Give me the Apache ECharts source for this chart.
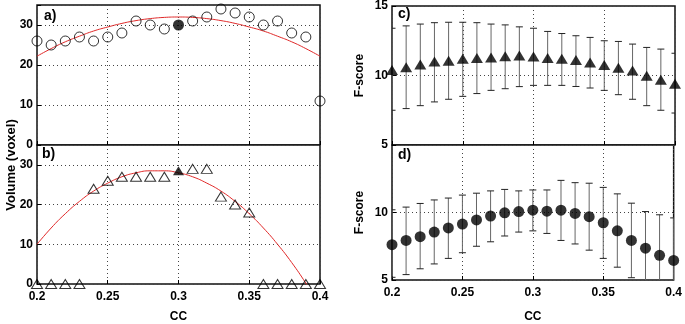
<!DOCTYPE html>
<html>
<head>
<meta charset="utf-8">
<script src="https://cdn.jsdelivr.net/npm/echarts@6/dist/echarts.min.js"></script>
<style>
  html, body { margin: 0; padding: 0; background: #fff; }
  #chart { width: 685px; height: 324px; }
</style>
</head>
<body>
<div id="chart"></div>
<script>
// CC thresholds, shared by all four panels
var cc = [0.20, 0.21, 0.22, 0.23, 0.24, 0.25, 0.26, 0.27, 0.28, 0.29, 0.30,
          0.31, 0.32, 0.33, 0.34, 0.35, 0.36, 0.37, 0.38, 0.39, 0.40];
var best = 10; // cc = 0.3, drawn filled

// a) volume, circles + red fit
var volA = [26, 25, 26, 27, 26, 27, 28, 31, 30, 29, 30, 31, 32, 34, 33, 32, 30, 31, 28, 27, 11];
var fitA = [22.2, 24.1, 25.8, 27.2, 28.5, 29.5, 30.4, 31.1, 31.6, 31.9, 32.0,
            31.9, 31.6, 31.1, 30.4, 29.5, 28.5, 27.2, 25.8, 24.1, 22.2];
// b) volume, triangles + red fit
var volB = [0, 0, 0, 0, 24, 26, 27, 27, 27, 27, 28.5, 29, 29, 22, 20, 18, 0, 0, 0, 0, 0];
var fitB = [10.0, 14.1, 17.7, 20.8, 23.4, 25.4, 27.0, 28.0, 28.5, 28.5, 28.0,
            27.0, 25.4, 23.4, 20.8, 17.7, 14.1, 10.0, 5.4, 0.2, -5.4];
// c) F-score mean, low, high
var fC   = [10.4, 10.6, 10.8, 11.0, 11.07, 11.2, 11.26, 11.3, 11.38, 11.43, 11.36,
            11.26, 11.2, 11.12, 10.93, 10.76, 10.55, 10.36, 9.98, 9.69, 9.4];
var fCLo = [7.5, 7.62, 7.83, 8.1, 8.29, 8.5, 8.7, 8.93, 9.05, 9.2, 9.29,
            9.29, 9.29, 9.21, 9.1, 8.93, 8.62, 8.29, 7.83, 7.5, 7.3];
var fCHi = [13.4, 13.57, 13.7, 13.8, 13.83, 13.83, 13.8, 13.7, 13.64, 13.5, 13.4,
            13.17, 13.02, 12.86, 12.74, 12.5, 12.45, 12.26, 12.02, 11.9, 11.6];
// d) F-score mean, low, high
var fD   = [7.62, 7.93, 8.21, 8.55, 8.86, 9.14, 9.45, 9.74, 9.98, 10.07, 10.17,
            10.1, 10.17, 9.93, 9.69, 9.24, 8.64, 7.93, 7.36, 6.83, 6.45];
var fDLo = [5.2, 5.4, 5.83, 6.19, 6.6, 7.02, 7.5, 7.83, 8.26, 8.55, 8.64,
            8.45, 7.93, 7.67, 7.21, 6.6, 5.95, 5.17, 4.7, 4.0, 3.8];
var fDHi = [10.2, 10.4, 10.67, 10.93, 11.07, 11.29, 11.43, 11.6, 11.71, 11.6, 11.67,
            11.67, 12.38, 12.21, 12.17, 11.86, 11.38, 10.69, 10.07, 9.83, 9.6];

var font = "'Liberation Sans', Arial, sans-serif";

function pairs(ys) {
  return cc.map(function (c, i) { return [c, ys[i]]; });
}

function xAx(gi, labels, nameGap) {
  return {
    type: 'value', gridIndex: gi, min: 0.2, max: 0.4, interval: 0.05,
    name: labels ? 'CC' : '', nameLocation: 'middle', nameGap: nameGap || 25,
    nameTextStyle: { fontFamily: font, fontWeight: 'bold', fontSize: 12, color: '#000' },
    axisLine: { show: false },
    axisTick: { show: true, inside: true, length: 4, lineStyle: { color: '#000' } },
    axisLabel: { show: labels, fontFamily: font, fontWeight: 'bold', fontSize: 12, color: '#000', margin: 7 },
    splitLine: { show: true, lineStyle: { color: '#444', type: [1, 3], width: 1 } }
  };
}

function yAx(gi, min, max, interval, hide, name) {
  return {
    type: 'value', gridIndex: gi, min: min, max: max, interval: interval,
    name: name || '', nameLocation: 'middle', nameGap: 26, nameRotate: 90,
    nameTextStyle: { fontFamily: font, fontWeight: 'bold', fontSize: 12, color: '#000' },
    axisLine: { show: false },
    axisTick: { show: true, inside: true, length: 4, lineStyle: { color: '#000' } },
    axisLabel: {
      fontFamily: font, fontWeight: 'bold', fontSize: 12, color: '#000', margin: 4,
      formatter: function (v) { return hide.indexOf(v) >= 0 ? '' : String(v); }
    },
    splitLine: {
      show: true,
      lineStyle: { color: '#444', type: [1, 3], width: 1 }
    }
  };
}

function errBars(gi, lo, hi) {
  return {
    type: 'custom', xAxisIndex: gi, yAxisIndex: gi, clip: true, z: 2,
    data: cc.map(function (c, i) { return [c, lo[i], hi[i]]; }),
    renderItem: function (params, api) {
      var top = api.coord([api.value(0), api.value(2)]);
      var bot = api.coord([api.value(0), api.value(1)]);
      var w = 3.5;
      var cap = { stroke: '#222', lineWidth: 1 };
      return {
        type: 'group',
        children: [
          { type: 'line', shape: { x1: top[0], y1: top[1], x2: bot[0], y2: bot[1] },
            style: { stroke: '#666', lineWidth: 1 } },
          { type: 'line', shape: { x1: top[0] - w, y1: top[1], x2: top[0] + w, y2: top[1] }, style: cap },
          { type: 'line', shape: { x1: bot[0] - w, y1: bot[1], x2: bot[0] + w, y2: bot[1] }, style: cap }
        ]
      };
    }
  };
}

var gridStyle = { show: true, borderColor: '#111', borderWidth: 1.5, backgroundColor: '#fff' };

var myChart = echarts.init(document.getElementById('chart'));
var option = {
  animation: false,
  grid: [
    Object.assign({ left: 37, top: 5, width: 283, height: 140 }, gridStyle),
    Object.assign({ left: 37, top: 145, width: 283, height: 140 }, gridStyle),
    Object.assign({ left: 392, top: 5, width: 283, height: 140 }, gridStyle),
    Object.assign({ left: 392, top: 145, width: 283, height: 140 }, gridStyle)
  ],
  xAxis: [
    xAx(0, false),
    xAx(1, true, 27),
    xAx(2, false),
    xAx(3, true, 31)
  ],
  yAxis: [
    yAx(0, 0, 35, 10, [35]),
    yAx(1, 0, 35, 10, [35]),
    yAx(2, 5, 15, 5, [], 'F-score'),
    yAx(3, 5, 15, 5, [15], 'F-score')
  ],
  graphic: [
    { type: 'text', x: 11, y: 165, rotation: Math.PI / 2,
      style: { text: 'Volume (voxel)', font: 'bold 13px ' + font, fill: '#000',
               textAlign: 'center', textVerticalAlign: 'middle' } },
    { type: 'text', x: 44, y: 9, style: { text: 'a)', font: 'bold 14px ' + font, fill: '#000' } },
    { type: 'text', x: 42, y: 147, style: { text: 'b)', font: 'bold 14px ' + font, fill: '#000' } },
    { type: 'text', x: 398, y: 7, style: { text: 'c)', font: 'bold 14px ' + font, fill: '#000' } },
    { type: 'text', x: 398, y: 148, style: { text: 'd)', font: 'bold 14px ' + font, fill: '#000' } }
  ],
  series: [
    { type: 'line', xAxisIndex: 0, yAxisIndex: 0, data: pairs(fitA), smooth: true, showSymbol: false,
      lineStyle: { color: '#e02828', width: 1 }, z: 2 },
    { type: 'scatter', xAxisIndex: 0, yAxisIndex: 0, data: pairs(volA).filter(function (d, i) { return i !== best; }),
      symbol: 'circle', symbolSize: 10,
      itemStyle: { color: 'rgba(0,0,0,0)', borderColor: '#000', borderWidth: 1 }, z: 3 },
    { type: 'scatter', xAxisIndex: 0, yAxisIndex: 0, data: [[cc[best], volA[best]]],
      symbol: 'circle', symbolSize: 11, itemStyle: { color: '#000' }, z: 4 },

    { type: 'line', xAxisIndex: 1, yAxisIndex: 1, data: pairs(fitB), smooth: true, showSymbol: false,
      lineStyle: { color: '#e02828', width: 1 }, z: 2 },
    { type: 'scatter', xAxisIndex: 1, yAxisIndex: 1, data: pairs(volB).filter(function (d, i) { return i !== best; }),
      symbol: 'triangle', symbolSize: [11, 9],
      itemStyle: { color: 'rgba(0,0,0,0)', borderColor: '#000', borderWidth: 1 }, z: 3 },
    { type: 'scatter', xAxisIndex: 1, yAxisIndex: 1, data: [[cc[best], volB[best]]],
      symbol: 'triangle', symbolSize: [11, 9], itemStyle: { color: '#000' }, z: 4 },

    errBars(2, fCLo, fCHi),
    { type: 'scatter', xAxisIndex: 2, yAxisIndex: 2, data: pairs(fC),
      symbol: 'triangle', symbolSize: [12, 10], itemStyle: { color: '#000' }, z: 4 },

    errBars(3, fDLo, fDHi),
    { type: 'scatter', xAxisIndex: 3, yAxisIndex: 3, data: pairs(fD),
      symbol: 'circle', symbolSize: 11, itemStyle: { color: '#000' }, z: 4 }
  ]
};
myChart.setOption(option);
</script>
</body>
</html>
